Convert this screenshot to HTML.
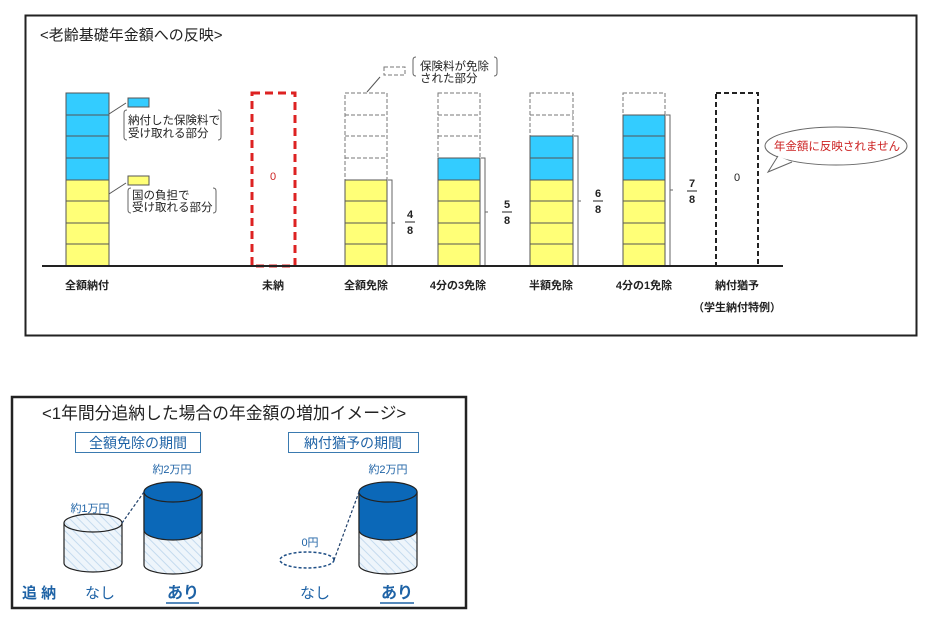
<!DOCTYPE html>
<html><head><meta charset="utf-8"><style>
body{margin:0;background:#fff;}
svg text{font-family:"Liberation Sans","Noto Sans CJK JP",sans-serif;}
</style></head><body>
<svg width="929" height="620" viewBox="0 0 929 620" xmlns="http://www.w3.org/2000/svg">
<defs>
<pattern id="h" width="6" height="6" patternUnits="userSpaceOnUse" patternTransform="rotate(-45)">
<rect width="6" height="6" fill="#eef5fb"/><line x1="0" y1="0" x2="0" y2="6" stroke="#c4daee" stroke-width="2"/>
</pattern>
</defs>
<rect x="25.5" y="15.5" width="891" height="320" fill="#fff" stroke="#222" stroke-width="2"/>
<text x="40" y="40" font-size="15" fill="#222">&lt;老齢基礎年金額への反映&gt;</text>

<g stroke="#555" stroke-width="1">
<rect x="66" y="93" width="43" height="87" fill="#33ccff"/>
<rect x="66" y="180" width="43" height="86" fill="#ffff77"/>
<line x1="66" y1="115" x2="109" y2="115"/><line x1="66" y1="136" x2="109" y2="136"/><line x1="66" y1="158" x2="109" y2="158"/>
<line x1="66" y1="201" x2="109" y2="201"/><line x1="66" y1="223" x2="109" y2="223"/><line x1="66" y1="244" x2="109" y2="244"/>
<g fill="#fff" stroke-dasharray="4,2" stroke="#777">
<rect x="345" y="93" width="42" height="87"/>
<line x1="345" y1="115" x2="387" y2="115"/><line x1="345" y1="136" x2="387" y2="136"/><line x1="345" y1="158" x2="387" y2="158"/>
<rect x="438" y="93" width="42" height="65"/>
<line x1="438" y1="115" x2="480" y2="115"/><line x1="438" y1="136" x2="480" y2="136"/>
<rect x="530" y="93" width="43" height="43"/>
<line x1="530" y1="115" x2="573" y2="115"/>
<rect x="623" y="93" width="42" height="22"/>
<rect x="384" y="67" width="21" height="8"/>
</g>
<rect x="345" y="180" width="42" height="86" fill="#ffff77"/>
<line x1="345" y1="201" x2="387" y2="201"/><line x1="345" y1="223" x2="387" y2="223"/><line x1="345" y1="244" x2="387" y2="244"/>
<rect x="438" y="158" width="42" height="22" fill="#33ccff"/>
<rect x="438" y="180" width="42" height="86" fill="#ffff77"/>
<line x1="438" y1="201" x2="480" y2="201"/><line x1="438" y1="223" x2="480" y2="223"/><line x1="438" y1="244" x2="480" y2="244"/>
<rect x="530" y="136" width="43" height="44" fill="#33ccff"/><line x1="530" y1="158" x2="573" y2="158"/>
<rect x="530" y="180" width="43" height="86" fill="#ffff77"/>
<line x1="530" y1="201" x2="573" y2="201"/><line x1="530" y1="223" x2="573" y2="223"/><line x1="530" y1="244" x2="573" y2="244"/>
<rect x="623" y="115" width="42" height="65" fill="#33ccff"/><line x1="623" y1="136" x2="665" y2="136"/><line x1="623" y1="158" x2="665" y2="158"/>
<rect x="623" y="180" width="42" height="86" fill="#ffff77"/>
<line x1="623" y1="201" x2="665" y2="201"/><line x1="623" y1="223" x2="665" y2="223"/><line x1="623" y1="244" x2="665" y2="244"/>
<rect x="128" y="98" width="21" height="9" fill="#33ccff"/>
<rect x="128" y="176" width="21" height="9" fill="#ffff77"/>
<line x1="109" y1="114" x2="126" y2="103"/><line x1="109" y1="194" x2="126" y2="183"/>
<line x1="367" y1="92" x2="380" y2="77"/>
</g>
<g fill="none" stroke="#666" stroke-width="1">
<path d="M127,110 q-3,0 -3,3 v24 q0,3 3,3"/><path d="M218,110 q3,0 3,3 v24 q0,3 -3,3"/>
<path d="M131,188 q-3,0 -3,3 v19 q0,3 3,3"/><path d="M213,188 q3,0 3,3 v19 q0,3 -3,3"/>
<path d="M416,57 q-3,0 -3,3 v13 q0,3 3,3"/><path d="M494,57 q3,0 3,3 v13 q0,3 -3,3"/>
<path d="M388,180 h4 v86 h-4 M392,223 h3"/>
<path d="M481,158 h4 v108 h-4 M485,212 h3"/>
<path d="M574,136 h4 v130 h-4 M578,201 h3"/>
<path d="M666,115 h4 v151 h-4 M670,190 h3"/>
</g>
<g font-size="11.5" fill="#222">
<text x="128" y="124">納付した保険料で</text><text x="128" y="137">受け取れる部分</text>
<text x="132" y="199">国の負担で</text><text x="132" y="211">受け取れる部分</text>
<text x="420" y="70">保険料が免除</text><text x="420" y="82">された部分</text>
</g>
<g font-size="11" font-weight="bold" fill="#222" text-anchor="middle">
<text x="410" y="218">4</text><line x1="405" y1="222" x2="415" y2="222" stroke="#222"/><text x="410" y="234">8</text>
<text x="507" y="208">5</text><line x1="502" y1="212" x2="512" y2="212" stroke="#222"/><text x="507" y="224">8</text>
<text x="598" y="197">6</text><line x1="593" y1="201" x2="603" y2="201" stroke="#222"/><text x="598" y="213">8</text>
<text x="692" y="187">7</text><line x1="687" y1="191" x2="697" y2="191" stroke="#222"/><text x="692" y="203">8</text>
</g>
<rect x="252" y="93" width="43" height="173" fill="none" stroke="#d22" stroke-width="3" stroke-dasharray="8,5"/>
<text x="273" y="180" font-size="11" fill="#c22" text-anchor="middle">0</text>
<rect x="716" y="93" width="42" height="173" fill="none" stroke="#222" stroke-width="2" stroke-dasharray="5,3"/>
<text x="737" y="181" font-size="11" fill="#222" text-anchor="middle">0</text>
<line x1="42" y1="266" x2="783" y2="266" stroke="#222" stroke-width="2"/>
<ellipse cx="836" cy="146" rx="71" ry="19" fill="#fff" stroke="#666"/>
<path d="M778,156 L768,172 L792,162" fill="#fff" stroke="#666"/>
<text x="837" y="150" font-size="11.5" fill="#c22" text-anchor="middle">年金額に反映されません</text>
<g font-size="11" font-weight="bold" fill="#222" text-anchor="middle">
<text x="87" y="289">全額納付</text><text x="273" y="289">未納</text><text x="366" y="289">全額免除</text>
<text x="458" y="289">4分の3免除</text><text x="551" y="289">半額免除</text><text x="644" y="289">4分の1免除</text>
<text x="737" y="289">納付猶予</text><text x="737" y="311">（学生納付特例）</text>
</g>

<rect x="12" y="397" width="454" height="211" fill="#fff" stroke="#222" stroke-width="2.5"/>
<text x="42" y="419" font-size="16.8" fill="#222">&lt;1年間分追納した場合の年金額の増加イメージ&gt;</text>
<rect x="75.5" y="432.5" width="125" height="20" fill="#fff" stroke="#3a7ab0"/>
<rect x="288.5" y="432.5" width="130" height="20" fill="#fff" stroke="#3a7ab0"/>
<g font-size="14" fill="#1f63a6" text-anchor="middle">
<text x="138" y="448">全額免除の期間</text><text x="353" y="448">納付猶予の期間</text>
</g>
<g stroke="#222" stroke-width="1.2">
<path d="M64,523 V563 A29,9 0 0,0 122,563 V523" fill="url(#h)"/>
<ellipse cx="93" cy="523" rx="29" ry="9" fill="url(#h)"/>
<path d="M144,492 V565 A29,9 0 0,0 202,565 V492" fill="url(#h)"/>
<path d="M144,492 V530 A29,10 0 0,0 202,530 V492 Z" fill="#0b68b8"/>
<ellipse cx="173" cy="492" rx="29" ry="10" fill="#0b68b8"/>
<path d="M359,492 V565 A29,9 0 0,0 417,565 V492" fill="url(#h)"/>
<path d="M359,492 V530 A29,10 0 0,0 417,530 V492 Z" fill="#0b68b8"/>
<ellipse cx="388" cy="492" rx="29" ry="10" fill="#0b68b8"/>
</g>
<ellipse cx="307" cy="560" rx="27" ry="8" fill="none" stroke="#1f4f86" stroke-width="1.5" stroke-dasharray="3,2"/>
<line x1="122" y1="523" x2="144" y2="492" stroke="#1f3f6a" stroke-width="1.2" stroke-dasharray="3,2"/>
<line x1="334" y1="560" x2="359" y2="492" stroke="#1f3f6a" stroke-width="1.2" stroke-dasharray="3,2"/>
<g font-size="11" fill="#1f63a6" text-anchor="middle">
<text x="90" y="512">約1万円</text><text x="172" y="473">約2万円</text>
<text x="310" y="546">0円</text><text x="388" y="473">約2万円</text>
</g>
<g fill="#1f63a6">
<text x="22" y="598" font-size="15" font-weight="bold">追 納</text>
<text x="100" y="598" font-size="15" text-anchor="middle">なし</text>
<text x="183" y="598" font-size="16" font-weight="bold" text-anchor="middle">あり</text>
<line x1="166" y1="603" x2="199" y2="603" stroke="#1f63a6" stroke-width="1.5"/>
<text x="315" y="598" font-size="15" text-anchor="middle">なし</text>
<text x="397" y="598" font-size="16" font-weight="bold" text-anchor="middle">あり</text>
<line x1="380" y1="603" x2="414" y2="603" stroke="#1f63a6" stroke-width="1.5"/>
</g>
</svg>
</body></html>
